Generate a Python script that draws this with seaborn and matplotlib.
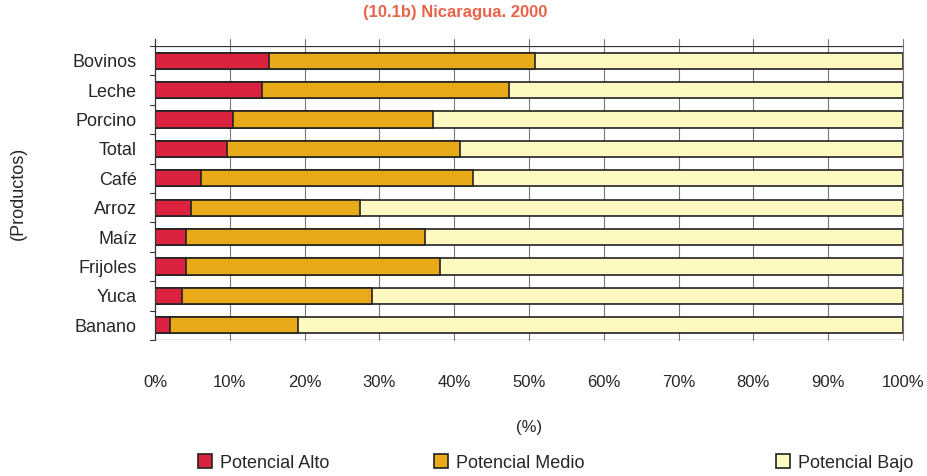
import pandas as pd
import matplotlib
matplotlib.use("Agg")
import matplotlib.pyplot as plt
import seaborn as sns
from matplotlib.patches import Patch

# data (percent of each product)
productos = ["Bovinos", "Leche", "Porcino", "Total", "Café", "Arroz", "Maíz", "Frijoles", "Yuca", "Banano"]
alto = [15.2, 14.3, 10.4, 9.6, 6.1, 4.8, 4.1, 4.1, 3.6, 2.0]
medio = [35.6, 33.0, 26.8, 31.2, 36.4, 22.6, 32.0, 34.0, 25.4, 17.1]
bajo = [49.2, 52.7, 62.8, 59.2, 57.5, 72.6, 63.9, 61.9, 71.0, 80.9]

df = pd.DataFrame({"producto": productos, "alto": alto, "medio": medio, "bajo": bajo})
df["cum_medio"] = df.alto + df.medio
df["cum_bajo"] = df.cum_medio + df.bajo

c_alto = "#db2340"
c_medio = "#e8aa18"
c_bajo = "#fdf9c0"

sns.set_style("white")
plt.rcParams["font.family"] = ["Liberation Sans", "DejaVu Sans"]

fig = plt.figure(figsize=(9.28, 4.76), dpi=100)
ax = fig.add_axes([155 / 928, 1 - 340 / 476, 748 / 928, 294 / 476])

# stacked bars: draw cumulative totals from the back to the front
kw = dict(width=0.55, edgecolor="#222222", linewidth=1.2, saturation=1, ax=ax)
sns.barplot(data=df, y="producto", x="cum_bajo", color=c_bajo, **kw)
sns.barplot(data=df, y="producto", x="cum_medio", color=c_medio, **kw)
sns.barplot(data=df, y="producto", x="alto", color=c_alto, **kw)

ax.set_xlim(0, 100)
ax.set_ylim(9.5, -0.5)
ax.set_xticks(range(0, 101, 10))
ax.set_xticklabels([f"{v}%" for v in range(0, 101, 10)], fontsize=12)
ax.tick_params(axis="x", pad=25, length=0)
ax.tick_params(axis="y", labelsize=13, length=0, pad=13)
for v in range(10, 101, 10):
    ax.plot([v, v], [9.5, -0.75], color="#777777", linewidth=0.8, clip_on=False, zorder=0)
for s in ax.spines.values():
    s.set_visible(False)
ax.plot([0, 0], [9.5, -0.75], color="#333333", linewidth=0.9, clip_on=False)
ax.axhline(-0.5, color="#333333", linewidth=0.9)
ax.axhline(9.5, color="#333333", linewidth=0.9)
# small ticks between categories
for yy in [i - 0.5 for i in range(11)]:
    ax.plot([-0.7, 0], [yy, yy], color="#333333", linewidth=0.8, clip_on=False)

ax.set_xlabel("(%)", fontsize=12, labelpad=22)
ax.set_ylabel("(Productos)", fontsize=13, labelpad=33)
fig.text(455 / 928, 1 - 12 / 476, "(10.1b) Nicaragua. 2000", fontsize=12, fontweight="bold",
         color="#e8634a", ha="center", va="center")

items = [("Potencial Alto", c_alto, 198), ("Potencial Medio", c_medio, 434), ("Potencial Bajo", c_bajo, 776)]
for lab, col, xp in items:
    fig.legend([Patch(facecolor=col, edgecolor="#222222", linewidth=1.2)], [lab],
               loc="center left", bbox_to_anchor=(xp / 928, 1 - 463 / 476),
               frameon=False, fontsize=13, handlelength=0.8, handleheight=0.8,
               handletextpad=0.4, borderpad=0, borderaxespad=0)

fig.savefig("out.png", dpi=100)
